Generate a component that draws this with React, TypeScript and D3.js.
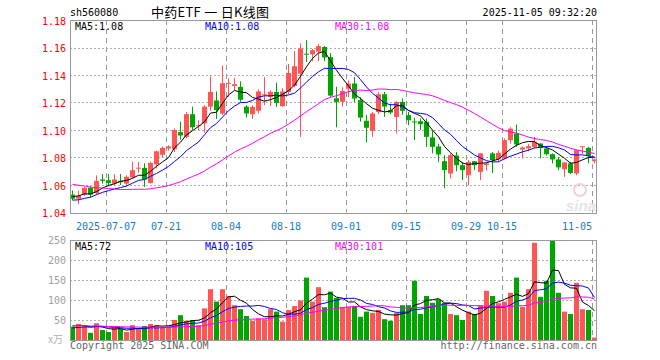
import React from 'react';
import * as d3 from 'd3';

// ---- data (88 trading days, 2025-06-27 .. 2025-11-05) ----
const opens = [
  1.053, 1.050, 1.0531, 1.058, 1.054, 1.064, 1.0635, 1.061, 1.063, 1.061,
  1.0655, 1.0722, 1.0724, 1.0615, 1.075, 1.082, 1.0866, 1.086, 1.0985, 1.095,
  1.1115, 1.103, 1.1047, 1.117, 1.1215, 1.112, 1.134, 1.132, 1.1314, 1.117,
  1.1115, 1.114, 1.1255, 1.124, 1.1277, 1.1173, 1.1277, 1.132, 1.141, 1.1555,
  1.155, 1.157, 1.1604, 1.153, 1.123, 1.1205, 1.130, 1.1338, 1.1217, 1.1067,
  1.0994, 1.113, 1.126, 1.1144, 1.1095, 1.1204, 1.1108, 1.1062, 1.1064, 1.106,
  1.0946, 1.088, 1.0773, 1.0684, 1.0815, 1.0744, 1.0671, 1.0773, 1.0695, 1.0745,
  1.083, 1.0786, 1.0793, 1.0926, 1.0975, 1.0858, 1.0866, 1.0877, 1.0902, 1.0866,
  1.0824, 1.0786, 1.0715, 1.0757, 1.0684, 1.0877, 1.087, 1.0773,
];
const highs = [
  1.056, 1.056, 1.0585, 1.059, 1.067, 1.068, 1.068, 1.068, 1.068, 1.067,
  1.077, 1.0768, 1.0757, 1.077, 1.085, 1.088, 1.089, 1.101, 1.106, 1.113,
  1.117, 1.107, 1.118, 1.139, 1.128, 1.147, 1.1375, 1.138, 1.1355, 1.118,
  1.118, 1.1295, 1.1386, 1.129, 1.1343, 1.1305, 1.148, 1.1575, 1.163, 1.1653,
  1.159, 1.1625, 1.161, 1.156, 1.1315, 1.131, 1.136, 1.1386, 1.124, 1.111,
  1.113, 1.1275, 1.1277, 1.119, 1.121, 1.123, 1.1132, 1.109, 1.1084, 1.1084,
  1.0995, 1.090, 1.0817, 1.083, 1.084, 1.0768, 1.078, 1.0775, 1.083, 1.077,
  1.084, 1.085, 1.0938, 1.102, 1.104, 1.088, 1.090, 1.095, 1.0905, 1.088,
  1.083, 1.0804, 1.0768, 1.0768, 1.0857, 1.0882, 1.0877, 1.0793,
];
const lows = [
  1.049, 1.046, 1.052, 1.051, 1.053, 1.061, 1.059, 1.060, 1.060, 1.059,
  1.065, 1.0688, 1.0586, 1.061, 1.072, 1.080, 1.085, 1.084, 1.093, 1.094,
  1.100, 1.100, 1.098, 1.114, 1.108, 1.111, 1.124, 1.129, 1.1205, 1.109,
  1.108, 1.112, 1.118, 1.1175, 1.1168, 1.117, 1.126, 1.131, 1.095, 1.1495,
  1.150, 1.150, 1.150, 1.124, 1.102, 1.117, 1.124, 1.1204, 1.106, 1.091,
  1.095, 1.1115, 1.1095, 1.1115, 1.0975, 1.111, 1.1035, 1.0926, 1.100, 1.0877,
  1.083, 1.0768, 1.0575, 1.0648, 1.070, 1.0635, 1.0598, 1.0708, 1.0635, 1.0705,
  1.0688, 1.077, 1.0786, 1.090, 1.0877, 1.0793, 1.0846, 1.0866, 1.0793, 1.0815,
  1.0757, 1.0708, 1.0659, 1.068, 1.0671, 1.0824, 1.0757, 1.0757,
];
const closes = [
  1.050, 1.052, 1.0579, 1.053, 1.063, 1.063, 1.0615, 1.064, 1.062, 1.066,
  1.0708, 1.0726, 1.064, 1.076, 1.0845, 1.087, 1.088, 1.100, 1.096, 1.1115,
  1.102, 1.1035, 1.117, 1.1277, 1.1145, 1.134, 1.1343, 1.1333, 1.122, 1.112,
  1.1168, 1.128, 1.126, 1.1277, 1.1197, 1.128, 1.1415, 1.1464, 1.1593, 1.155,
  1.158, 1.161, 1.1527, 1.125, 1.1205, 1.1284, 1.1338, 1.1229, 1.109, 1.1016,
  1.112, 1.126, 1.117, 1.1127, 1.1204, 1.114, 1.1071, 1.106, 1.1042, 1.095,
  1.0877, 1.0822, 1.0708, 1.0817, 1.0744, 1.0708, 1.0768, 1.0744, 1.083, 1.0755,
  1.078, 1.0834, 1.0926, 1.101, 1.0895, 1.0873, 1.0882, 1.0913, 1.087, 1.0824,
  1.0786, 1.0728, 1.0764, 1.0688, 1.0853, 1.0882, 1.0812, 1.0786,
];
// volume, unit: 万手
const volumes = [
  33, 40, 37, 18, 42, 25, 20, 30, 28, 20,
  37, 29, 35, 40, 37, 33, 33, 50, 62, 48,
  50, 37, 79, 127, 96, 127, 110, 87, 77, 60,
  48, 54, 52, 77, 71, 46, 75, 85, 99, 156,
  96, 132, 82, 121, 105, 83, 83, 85, 58, 71,
  68, 75, 52, 48, 68, 87, 87, 148, 65, 110,
  93, 102, 93, 65, 62, 50, 71, 65, 87, 123,
  110, 92, 96, 118, 156, 83, 127, 243, 108, 148,
  250, 118, 71, 65, 143, 77, 75, 6,
];
// estimated closes / volumes of the 29 sessions before the window (read off the MA levels at the left edge)
const priorCloses = [
  1.072, 1.075, 1.078, 1.074, 1.070, 1.073, 1.076, 1.071, 1.068, 1.066,
  1.069, 1.067, 1.064, 1.065, 1.062, 1.063, 1.058, 1.055, 1.051, 1.048,
  1.050, 1.047, 1.045, 1.044, 1.0465, 1.049, 1.051, 1.053, 1.0546,
];
const priorVolumes = [
  42, 38, 45, 36, 40, 44, 35, 39, 41, 37,
  43, 38, 36, 40, 42, 35, 39, 38, 37, 35,
  24, 27, 22, 28, 24, 33, 38, 36, 35,
];

const tickLabels = ['2025-07-07', '07-21', '08-04', '08-18', '09-01', '09-15', '09-29', '10-15', '11-05'];
const tickIndex = [6, 16, 26, 36, 46, 56, 66, 72, 87];
const priceTicks = [1.18, 1.16, 1.14, 1.12, 1.10, 1.08, 1.06, 1.04];
const volumeTicks = [250, 200, 150, 100, 50];
const maPeriods = [5, 10, 30];
const priceMALabels = ['MA5:1.08', 'MA10:1.08', 'MA30:1.08'];
const volumeMALabels = ['MA5:72', 'MA10:105', 'MA30:101'];

// ---- layout ----
const W = 660;
const H = 360;
const LEFT = 70;
const RIGHT = 597;
const MAIN_TOP = 20;
const MAIN_BOTTOM = 212.5;
const VOL_TOP = 240;
const VOL_BOTTOM = 340;
const SLOT = 6;
const BODY = 5;

const RED = '#FF5555';
const GREEN = '#00A600';
const MA_COLORS = ['#000000', '#0000FF', '#FF00FF'];
const MONO = '"DejaVu Sans Mono", "Liberation Mono", monospace';

function movingAvg(series: number[], prior: number[], k: number): number[] {
  const all = prior.concat(series);
  const off = prior.length;
  return series.map((_, i) => d3.mean(all.slice(off + i - k + 1, off + i + 1)) as number);
}

const crisp = (v: number) => Math.round(v) + 0.5;

export default function App() {
  const n = closes.length;
  const x = d3.scaleLinear().domain([0, n]).range([LEFT, LEFT + SLOT * n]);
  const y = d3.scaleLinear().domain([1.04, 1.18]).range([MAIN_BOTTOM, MAIN_TOP]);
  const yv = d3.scaleLinear().domain([0, 250]).range([VOL_BOTTOM, VOL_TOP]);

  const idx = d3.range(n);
  const up = (i: number) => closes[i] >= opens[i];

  const priceMA = maPeriods.map((k) => movingAvg(closes, priorCloses, k));
  const volMA = maPeriods.map((k) => movingAvg(volumes, priorVolumes, k));

  const priceLine = d3.line<number>().x((_, i) => x(i) + BODY / 2).y((d) => y(d));
  const volLine = d3.line<number>().x((_, i) => x(i) + BODY / 2).y((d) => yv(d));

  const gridColor = '#B0B0B0';
  const frameColor = '#999999';

  return (
    <svg
      width={W}
      height={H}
      style={{ position: 'absolute', left: 0, top: 0, background: '#fff' }}
      xmlns="http://www.w3.org/2000/svg"
    >
      <rect x={0} y={0} width={W} height={H} fill="#fff" />

      {/* header */}
      <text x={70} y={16} fontFamily={MONO} fontSize={10} fill="#000">sh560080</text>
      <text
        x={151}
        y={17}
        fontFamily='"Noto Sans CJK SC", sans-serif'
        fontSize={13}
        fill="#000"
        textLength={118}
        lengthAdjust="spacing"
      >
        中药ETF 一 日K线图
      </text>
      <text x={RIGHT} y={16} fontFamily={MONO} fontSize={10} fill="#000" textAnchor="end">
        2025-11-05 09:32:20
      </text>

      {/* main panel grid */}
      {priceTicks.map((t) => (
        <line
          key={'pg' + t}
          x1={LEFT}
          x2={RIGHT}
          y1={crisp(y(t))}
          y2={crisp(y(t))}
          stroke={gridColor}
          strokeDasharray="2,2"
        />
      ))}
      {tickIndex.map((i) => (
        <line
          key={'pv' + i}
          x1={x(i) + 0.5}
          x2={x(i) + 0.5}
          y1={MAIN_TOP}
          y2={MAIN_BOTTOM}
          stroke={frameColor}
          strokeDasharray="5,4"
        />
      ))}
      {priceTicks.map((t) => (
        <text
          key={'pl' + t}
          x={66}
          y={y(t) + 1}
          fontFamily={MONO}
          fontSize={10}
          fill="#FF0000"
          textAnchor="end"
          dominantBaseline="central"
        >
          {d3.format('.2f')(t)}
        </text>
      ))}

      {/* watermark */}
      <circle cx={580} cy={190} r={6} fill="none" stroke="#F4D0D0" strokeWidth={2} />
      <text x={596} y={211} fontFamily="sans-serif" fontSize={15} fontStyle="italic" fontWeight="bold" fill="#E4E4E4" textAnchor="end">
        sina
      </text>

      {/* candles */}
      {idx.map((i) => {
        const c = up(i) ? RED : GREEN;
        const top = y(Math.max(opens[i], closes[i]));
        const bot = y(Math.min(opens[i], closes[i]));
        const cx = x(i) + BODY / 2;
        return (
          <g key={'c' + i}>
            <line x1={cx} x2={cx} y1={y(highs[i])} y2={y(lows[i])} stroke={c} strokeWidth={1} />
            <rect x={x(i)} y={top} width={BODY} height={Math.max(1, bot - top)} fill={c} />
          </g>
        );
      })}

      {/* price MAs */}
      {priceMA.map((s, k) => (
        <path key={'pma' + k} d={priceLine(s) || ''} fill="none" stroke={MA_COLORS[k]} strokeWidth={1} />
      ))}

      {/* main frame */}
      <rect x={LEFT + 0.5} y={MAIN_TOP + 0.5} width={RIGHT - LEFT - 1} height={crisp(MAIN_BOTTOM) - MAIN_TOP - 0.5} fill="none" stroke={frameColor} />
      {priceMALabels.map((t, k) => (
        <text key={'pml' + k} x={75 + 130 * k} y={30} fontFamily={MONO} fontSize={10} fill={MA_COLORS[k]}>
          {t}
        </text>
      ))}

      {/* x axis labels */}
      {tickIndex.map((i, k) => (
        <text
          key={'xl' + i}
          x={x(i)}
          y={230}
          fontFamily={MONO}
          fontSize={10}
          fill="#0A80D8"
          textAnchor={k === tickIndex.length - 1 ? 'end' : 'middle'}
        >
          {tickLabels[k]}
        </text>
      ))}

      {/* volume panel grid */}
      {volumeTicks.map((t) => (
        <line
          key={'vg' + t}
          x1={LEFT}
          x2={RIGHT}
          y1={crisp(yv(t))}
          y2={crisp(yv(t))}
          stroke={gridColor}
          strokeDasharray="2,2"
        />
      ))}
      {tickIndex.map((i) => (
        <line
          key={'vv' + i}
          x1={x(i) + 0.5}
          x2={x(i) + 0.5}
          y1={VOL_TOP}
          y2={VOL_BOTTOM}
          stroke={frameColor}
          strokeDasharray="5,4"
        />
      ))}
      {volumeTicks.map((t) => (
        <text
          key={'vl' + t}
          x={66}
          y={yv(t)}
          fontFamily={MONO}
          fontSize={10}
          fill="#A0A0A0"
          textAnchor="end"
          dominantBaseline="central"
        >
          {t}
        </text>
      ))}
      <text x={63} y={343} fontFamily='"Noto Sans CJK SC", sans-serif' fontSize={10} fill="#B0B0B0" textAnchor="end">
        x万
      </text>

      {/* volume bars */}
      {idx.map((i) => (
        <rect
          key={'v' + i}
          x={x(i)}
          y={yv(volumes[i])}
          width={BODY}
          height={VOL_BOTTOM - yv(volumes[i])}
          fill={up(i) ? RED : GREEN}
        />
      ))}
      {volMA.map((s, k) => (
        <path key={'vma' + k} d={volLine(s) || ''} fill="none" stroke={MA_COLORS[k]} strokeWidth={1} />
      ))}
      <rect x={LEFT + 0.5} y={VOL_TOP + 0.5} width={RIGHT - LEFT - 1} height={VOL_BOTTOM - VOL_TOP} fill="none" stroke={frameColor} />
      {volumeMALabels.map((t, k) => (
        <text key={'vml' + k} x={75 + 130 * k} y={250} fontFamily={MONO} fontSize={10} fill={MA_COLORS[k]}>
          {t}
        </text>
      ))}

      {/* footer */}
      <text x={70} y={349} fontFamily={MONO} fontSize={10} fill="#666">Copyright 2025 SINA.COM</text>
      <text x={RIGHT} y={349} fontFamily={MONO} fontSize={10} fill="#666" textAnchor="end">
        http://finance.sina.com.cn
      </text>
    </svg>
  );
}
